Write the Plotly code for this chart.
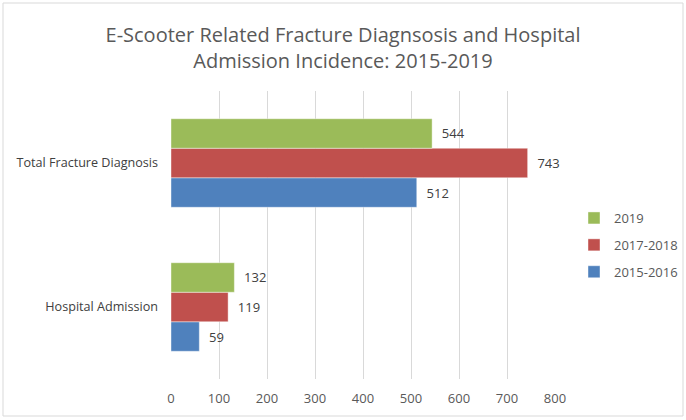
import plotly.graph_objects as go

categories = ["Hospital Admission", "Total Fracture Diagnosis"]
series_names = ["2015-2016", "2017-2018", "2019"]
values_2015_2016 = [59, 512]
values_2017_2018 = [119, 743]
values_2019 = [132, 544]
colors = ["#4F81BD", "#C0504D", "#9BBB59"]
legend_ranks = [3, 2, 1]
x_ticks = [0, 100, 200, 300, 400, 500, 600, 700, 800]

W, H = 686, 420
L, R, T, B = 171, 131, 91, 41
pw, ph = W - L - R, H - T - B

def px_x(p):
    return (p - L) / pw

def px_y(p):
    return (H - B - p) / ph

fig = go.Figure()
for name, vals, col, rk in zip(series_names, [values_2015_2016, values_2017_2018, values_2019], colors, legend_ranks):
    fig.add_trace(go.Bar(
        y=categories, x=vals, name=name, orientation="h", legendgroup=name, legendrank=rk,
        marker=dict(color=col, line=dict(color="rgba(255,255,255,0.6)", width=0.7)),
        text=vals, texttemplate="  %{x}", textposition="outside",
        textfont=dict(family="Open Sans", size=13, color="#404040"),
        cliponaxis=False,
    ))

fig.update_layout(
    width=W, height=H,
    margin=dict(l=L, r=R, t=T, b=B, autoexpand=False),
    paper_bgcolor="white", plot_bgcolor="white",
    barmode="group", bargap=0.385, bargroupgap=0,
    title=dict(
        text="E-Scooter Related Fracture Diagnsosis and Hospital<br>Admission Incidence: 2015-2019",
        x=0.5, xanchor="center", y=1 - 42 / H, yanchor="middle",
        font=dict(family="Open Sans", size=20, color="#595959"),
    ),
    xaxis=dict(
        range=[0, 800], tickvals=x_ticks, showgrid=True, gridcolor="#D9D9D9", gridwidth=1,
        zeroline=False, showline=False, ticks="", ticklabelstandoff=10,
        tickfont=dict(family="Open Sans", size=13, color="#595959"),
    ),
    yaxis=dict(
        range=[-0.5, 1.5], showgrid=False, zeroline=False, showline=False, ticks="",
        ticklabelstandoff=12,
        tickfont=dict(family="Open Sans", size=12.6, color="#404040"),
    ),
    legend=dict(
        x=px_x(574), y=px_y(203), xanchor="left", yanchor="top",
        traceorder="grouped", font=dict(family="Open Sans", size=13, color="#595959"),
        itemwidth=30, tracegroupgap=7, bgcolor="rgba(0,0,0,0)",
    ),
    shapes=[dict(type="rect", xref="paper", yref="paper",
                 x0=px_x(3), x1=px_x(683), y0=px_y(416), y1=px_y(3),
                 line=dict(color="#D9D9D9", width=1), layer="below")],
)

fig.write_html("out.html", config={"displayModeBar": False},
               post_script="document.body.style.margin='0';document.body.style.overflow='hidden';")
